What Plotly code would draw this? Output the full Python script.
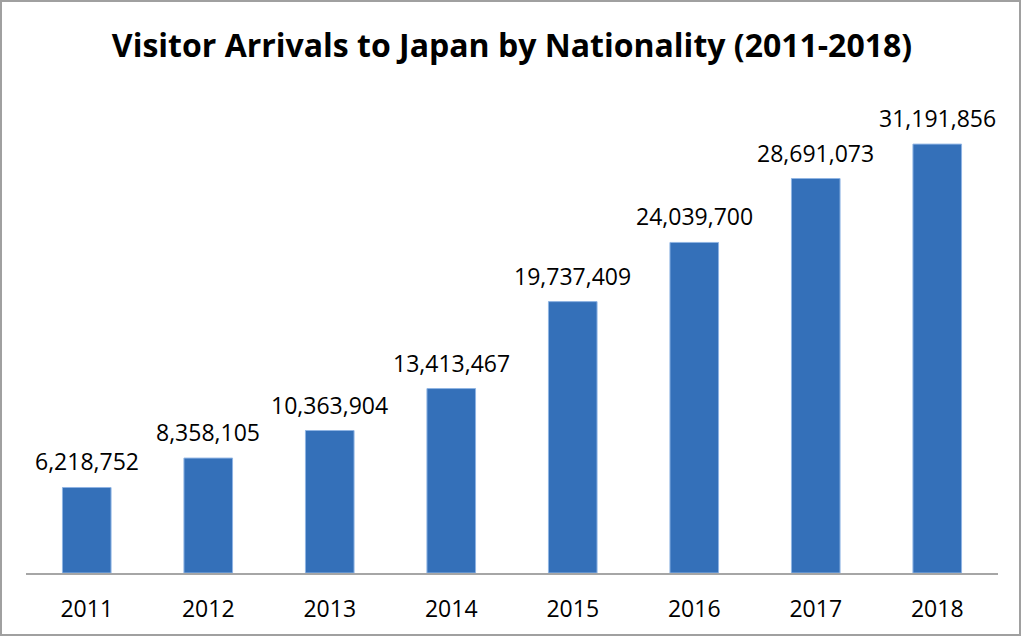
import plotly.graph_objects as go

years = ["2011", "2012", "2013", "2014", "2015", "2016", "2017", "2018"]
arrivals = [6218752, 8358105, 10363904, 13413467, 19737409, 24039700, 28691073, 31191856]
labels = [f"{v:,}" for v in arrivals]

# plot area in pixels: x 26..998, y 100..573
L, R, T, B = 26, 26, 100, 64
W, H = 1024, 637
pw, ph = W - L - R, H - T - B

def px(x):
    return (x - L) / pw

def py(y):
    return (H - B - y) / ph

fig = go.Figure()
fig.add_trace(go.Bar(
    x=years, y=arrivals,
    cliponaxis=False,
    marker=dict(color="#3470b9", line=dict(color="#8fb4e3", width=1)),
))

# on a category axis, annotation x is the category index
for i, (v, lab) in enumerate(zip(arrivals, labels)):
    fig.add_annotation(x=i, y=v, text=lab, showarrow=False,
                       xanchor="center", yanchor="bottom", yshift=8,
                       font=dict(family="Open Sans", size=23, color="#000000"))

fig.update_layout(
    width=W, height=H,
    margin=dict(l=L, r=R, t=T, b=B),
    paper_bgcolor="white", plot_bgcolor="white",
    bargap=0.6,
    showlegend=False,
    title=dict(text="<b>Visitor Arrivals to Japan by Nationality (2011-2018)</b>",
               x=0.5, xanchor="center", y=1 - 46 / H, yanchor="middle",
               font=dict(family="Open Sans", size=32, color="#000000")),
    xaxis=dict(type="category", range=[-0.5, len(years) - 0.5],
               showline=True, linecolor="#a6a6a6", linewidth=2,
               ticks="outside", ticklen=14, tickcolor="rgba(0,0,0,0)",
               tickfont=dict(family="Open Sans", size=23, color="#000000")),
    yaxis=dict(range=[0, 34400000], visible=False, showgrid=False),
    shapes=[dict(type="rect", xref="paper", yref="paper",
                 x0=px(1), y0=py(635), x1=px(1020), y1=py(1),
                 line=dict(color="#a0a0a0", width=2), layer="above")],
)
fig.update_layout(margin_autoexpand=False)
fig.write_html("out.html")
